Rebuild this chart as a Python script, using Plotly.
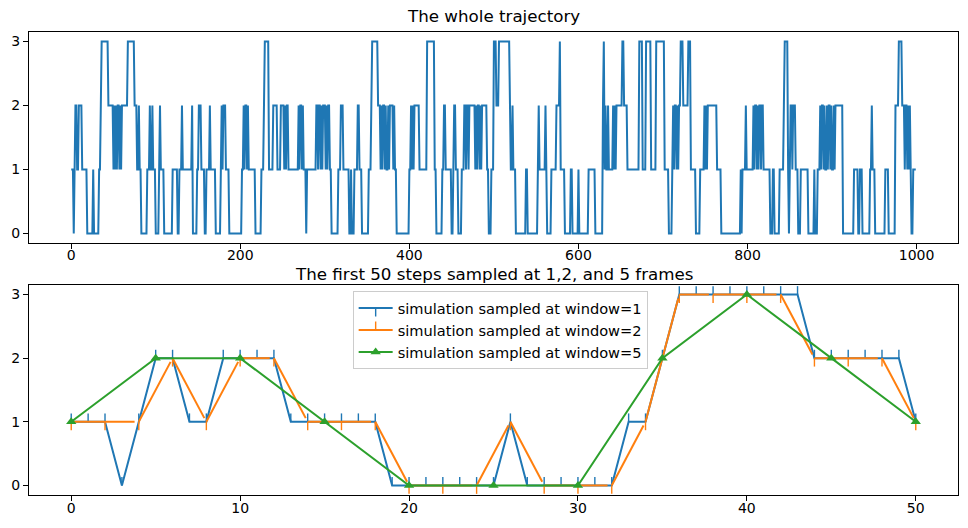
import plotly.graph_objects as go

# ---- whole trajectory (1000 steps), read as (state, run length) ----
traj_runs = [
    # 0-50
    (1,3),(0,1),(1,1),(2,2),(1,2),(2,4),(1,6),(0,7),(1,1),(0,6),(1,2),(2,1),(3,8),(2,6),(1,1),
    # 51-99
    (2,1),(1,1),(2,1),(1,1),(2,2),(1,1),(2,1),(1,1),(2,1),
    (2,6),(3,8),(2,3),(1,2),(2,1),(1,2),(0,7),(1,3),(2,1),(1,2),(2,1),(1,3),
    # 100-199
    (0,4),(1,1),(2,1),(1,4),(0,10),(1,6),(0,2),(1,3),(2,1),(1,11),(2,1),(0,5),(1,2),(2,3),
    (1,4),(0,2),(1,4),(2,1),(1,6),(0,6),(1,1),(2,1),(1,1),(2,3),(1,4),(0,15),
    # 202-299
    (1,2),(2,1),(1,1),(2,2),(1,1),(2,1),(1,8),(0,7),(1,3),(2,1),(3,5),(1,5),(2,5),(1,4),(2,4),
    (1,1),(2,1),(1,1),(2,2),(1,1),(1,11),(2,1),(1,1),(2,2),(1,1),(2,1),(1,3),(0,1),(1,11),
    # 290-399
    (2,2),(1,1),(2,2),(1,1),(2,1),(1,1),(2,3),(1,1),(2,1),(1,1),(2,2),
    (1,2),(0,8),(1,3),(2,3),(1,7),(0,2),(1,1),(0,3),(1,4),(2,2),(1,3),(0,8),(1,3),(2,1),(3,7),(2,3),
    (1,1),(2,1),(1,1),(2,2),(1,1),(2,1),(1,2),(2,1),(1,1),(2,1),
    (2,3),(1,1),(2,1),(1,2),(0,15),
    # 400-499
    (1,2),(2,1),(1,1),(2,1),(1,1),(2,2),(2,4),(1,9),(3,9),(1,2),(0,7),(1,2),(2,2),(1,7),(0,2),
    (1,1),(2,2),(1,3),(0,4),(1,3),(2,2),(1,1),(2,2),(1,1),(2,7),
    (1,1),(2,1),(1,1),(2,2),(1,1),(2,1),(1,1),(2,6),(1,2),(0,3),(1,3),
    # 500-599
    (3,3),(2,3),(3,13),(2,1),(1,2),(2,1),(1,3),(0,12),(1,2),(0,12),(1,1),(2,1),(1,7),(2,1),(1,1),
    (0,5),(1,6),(2,4),(3,1),(1,5),(0,7),(1,2),(0,7),
    # 600-699
    (1,1),(0,11),(1,8),(0,9),(2,1),(3,1),(1,1),(2,1),(1,2),(2,1),(1,2),(1,3),
    (2,1),(1,1),(2,1),(1,1),(2,1),(2,6),(3,2),(2,4),(1,14),(3,4),(1,4),(3,6),(1,6),
    # 692-799
    (3,10),(1,5),(0,4),(1,1),(2,1),(1,1),(2,2),(1,1),(2,1),(1,1),(2,2),(3,3),(2,6),(3,3),(1,6),
    (0,5),(1,5),(2,1),(1,1),(2,1),(1,1),(2,11),(1,5),(0,23),(1,1),(0,1),(1,4),(2,1),(1,8),
    # 807-899
    (2,1),(1,1),(2,2),(1,1),(2,1),(1,1),(2,2),(1,1),(2,2),(1,1),
    (1,7),(0,3),(1,2),(0,6),(1,5),(2,1),(3,4),(1,1),(0,1),(1,1),(2,2),(1,1),(2,3),(1,3),(0,3),
    (1,9),(0,7),(1,1),(0,3),(1,3),
    (2,1),(1,1),(2,2),(1,1),(2,1),(1,2),(2,1),(1,1),(2,2),(1,1),(2,1),(1,2),(2,1),(1,1),
    # 904-999
    (2,9),(0,13),(1,5),(0,2),(1,3),(0,9),(1,2),(2,1),(1,3),(0,12),(1,4),(0,8),(2,4),(3,4),(2,3),
    (1,1),(2,2),(1,1),(2,1),(1,1),(2,1),(1,1),(0,2),(1,4),
]

trajectory = []
for state, length in traj_runs:
    trajectory.extend([state] * length)
traj_steps = list(range(len(trajectory)))

# ---- first 50 steps, sampled at windows 1, 2, 5 ----
w1_steps = list(range(0, 51, 1))
w1_values = [1,1,1,0,1,2,2,1,1,2,2,2,2,1,1,1,1,1,1,0,0,0,0,0,0,0,1,0,0,0,0,0,0,1,1,2,
             3,3,3,3,3,3,3,3,2,2,2,2,2,2,1]
w2_steps = list(range(0, 51, 2))
w2_values = [1,1,1,2,1,2,2,1,1,1,0,0,0,1,0,0,0,1,3,3,3,3,2,2,2,1]
w5_steps = list(range(0, 51, 5))
w5_values = [1,2,2,1,0,0,0,2,3,2,1]

top_title = "The whole trajectory"
bottom_title = "The first 50 steps sampled at 1,2, and 5 frames"
legend_names = ["simulation sampled at window=1",
                "simulation sampled at window=2",
                "simulation sampled at window=5"]

BLUE, ORANGE, GREEN = "#1f77b4", "#ff7f0e", "#2ca02c"
FONT = "DejaVu Sans"

fig = go.Figure()
fig.add_trace(go.Scatter(x=traj_steps, y=trajectory, mode="lines",
                         line=dict(color=BLUE, width=2), showlegend=False,
                         xaxis="x", yaxis="y"))

fig.add_trace(go.Scatter(x=w1_steps, y=w1_values, mode="lines+markers", name=legend_names[0],
                         line=dict(color=BLUE, width=2),
                         marker=dict(symbol="line-ns", size=6, angle=180, standoff=4.2,
                                     line=dict(color=BLUE, width=1.4)),
                         xaxis="x2", yaxis="y2"))
fig.add_trace(go.Scatter(x=w2_steps, y=w2_values, mode="lines+markers", name=legend_names[1],
                         line=dict(color=ORANGE, width=2),
                         marker=dict(symbol="line-ns", size=6, angle=0, standoff=4.2,
                                     line=dict(color=ORANGE, width=1.4)),
                         xaxis="x2", yaxis="y2"))
fig.add_trace(go.Scatter(x=w5_steps, y=w5_values, mode="lines+markers", name=legend_names[2],
                         line=dict(color=GREEN, width=2),
                         marker=dict(symbol="triangle-up", size=9, color=GREEN),
                         xaxis="x2", yaxis="y2"))

axis_common = dict(showline=True, mirror=True, linecolor="black", linewidth=1,
                   ticks="outside", ticklen=5, tickwidth=1, tickcolor="black",
                   showgrid=False, zeroline=False,
                   tickfont=dict(family=FONT, size=14, color="black"))

fig.update_layout(
    width=968, height=528,
    margin=dict(l=29, r=10, t=32, b=33),
    paper_bgcolor="white", plot_bgcolor="white",
    font=dict(family=FONT, size=14, color="black"),
    xaxis=dict(domain=[0, 1], anchor="y", range=[-49.95, 1048.95],
               tickvals=[0, 200, 400, 600, 800, 1000], ticklabelstandoff=-6, **axis_common),
    yaxis=dict(domain=[0.5443, 1], anchor="x", range=[-0.15, 3.15],
               tickvals=[0, 1, 2, 3], **axis_common),
    xaxis2=dict(domain=[0, 1], anchor="y2", range=[-2.5, 52.5],
                tickvals=[0, 10, 20, 30, 40, 50], ticklabelstandoff=-5, **axis_common),
    yaxis2=dict(domain=[0, 0.4536], anchor="x2", range=[-0.15, 3.15],
                tickvals=[0, 1, 2, 3], **axis_common),
    legend=dict(x=0.3484, y=0.4406, xanchor="left", yanchor="top", itemwidth=34,
                bgcolor="rgba(255,255,255,0.8)", bordercolor="#cccccc", borderwidth=1,
                font=dict(family=FONT, size=14.6, color="black")),
    annotations=[
        dict(text=top_title, xref="paper", yref="paper", x=0.5, y=1, xanchor="center",
             yanchor="bottom", yshift=4, showarrow=False,
             font=dict(family=FONT, size=16.7, color="black")),
        dict(text=bottom_title, xref="paper", yref="paper", x=0.5, y=0.4536, xanchor="center",
             yanchor="bottom", yshift=0, borderpad=0, showarrow=False,
             font=dict(family=FONT, size=16.7, color="black")),
    ],
)

fig.write_html("out.html")
